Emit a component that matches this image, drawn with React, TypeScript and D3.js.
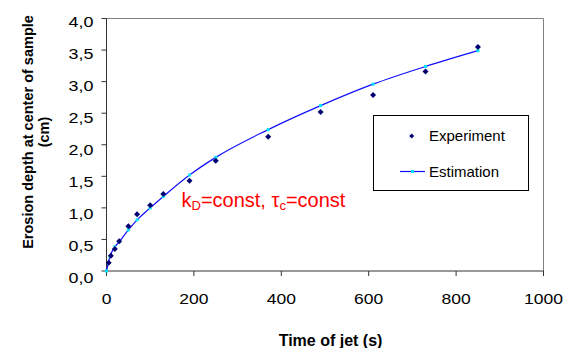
import React from "react";
import * as d3 from "d3";

const expTime = [5, 10, 19, 29, 50, 70, 100, 130, 190, 250, 370, 490, 610, 730, 850];
const expDepth = [0.13, 0.24, 0.35, 0.47, 0.71, 0.9, 1.04, 1.22, 1.43, 1.745, 2.125, 2.52, 2.79, 3.16, 3.55];

const estTime = [0, 8, 19, 29, 50, 70, 100, 130, 190, 250, 370, 490, 610, 730, 850];
const estDepth = [0, 0.23, 0.38, 0.46, 0.65, 0.81, 1.0, 1.18, 1.52, 1.8, 2.24, 2.62, 2.96, 3.24, 3.49];

const xTicks = [0, 200, 400, 600, 800, 1000];
const yTicks = [0, 0.5, 1, 1.5, 2, 2.5, 3, 3.5, 4];

const W = 563;
const H = 348;
const L = 106.5, R = 543.5, T = 18.5, B = 271;

export default function App() {
  const x = d3.scaleLinear().domain([0, 1000]).range([L, R]);
  const y = d3.scaleLinear().domain([0, 4]).range([B, T]);
  // label positions as rendered in the reference (slightly wider spacing than ticks)
  const yLab = d3.scaleLinear().domain([0, 4]).range([277.5, 21.5]);
  const fmt = (v: number) => v.toFixed(1).replace(".", ",");
  const est = estTime.map((t, i) => [t, estDepth[i]] as [number, number]);
  const line = d3
    .line<[number, number]>()
    .x((d) => x(d[0]))
    .y((d) => y(d[1]))
    .curve(d3.curveMonotoneX);
  const diamond = (cx: number, cy: number, r: number) =>
    `M${cx},${cy - r}L${cx + r},${cy}L${cx},${cy + r}L${cx - r},${cy}Z`;
  const font = "Liberation Sans, Arial, sans-serif";
  return (
    <svg
      width={W}
      height={H}
      style={{ position: "absolute", left: 0, top: 0, background: "#fff" }}
      fontFamily={font}
    >
      <rect x={0} y={0} width={W} height={H} fill="#fff" />
      {/* plot border */}
      <line x1={L} y1={T} x2={R} y2={T} stroke="#808080" strokeWidth={1} />
      <line x1={R} y1={T} x2={R} y2={B} stroke="#808080" strokeWidth={1} />
      {/* axes */}
      <line x1={L} y1={T} x2={L} y2={B} stroke="#333" strokeWidth={1} />
      <line x1={L} y1={B} x2={R} y2={B} stroke="#333" strokeWidth={1} />
      {yTicks.map((v) => (
        <g key={"y" + v}>
          <line x1={L - 5} x2={L} y1={y(v)} y2={y(v)} stroke="#333" />
          <text
            transform={`translate(93.5,${yLab(v)}) scale(1.28,1)`}
            dy="0.36em"
            textAnchor="end"
            fontSize={14}
          >
            {fmt(v)}
          </text>
        </g>
      ))}
      {xTicks.map((v) => (
        <g key={"x" + v}>
          <line x1={x(v)} x2={x(v)} y1={B} y2={B + 5} stroke="#333" />
          <text
            transform={`translate(${x(v)},303.5) scale(1.25,1)`}
            textAnchor="middle"
            fontSize={14}
          >
            {v}
          </text>
        </g>
      ))}
      {/* estimation line */}
      <path d={line(est) || ""} fill="none" stroke="#1010ff" strokeWidth={1.2} />
      {est.map((d, i) => (
        <rect
          key={"e" + i}
          x={x(d[0]) - 1.5}
          y={y(d[1]) - 1.5}
          width={3}
          height={3}
          fill="#00e5ff"
        />
      ))}
      {/* experiment points */}
      {expTime.map((t, i) => (
        <path key={"p" + i} d={diamond(x(t), y(expDepth[i]), 3)} fill="#000070" />
      ))}
      {/* annotation */}
      <text x={181.5} y={206.5} fill="#ff0000" fontSize={20}>
        k
        <tspan fontSize={13} dy={3.5}>D</tspan>
        <tspan dy={-3.5}>=const, τ</tspan>
        <tspan fontSize={13} dy={3.5}>c</tspan>
        <tspan dy={-3.5}>=const</tspan>
      </text>
      {/* legend */}
      <rect x={373.5} y={115.5} width={155} height={75} fill="#fff" stroke="#000" strokeWidth={1} />
      <path d={diamond(411.7, 136, 2.5)} fill="#000070" />
      <text x={429} y={141} fontSize={15}>Experiment</text>
      <line x1={400} x2={425} y1={171.5} y2={171.5} stroke="#1010ff" strokeWidth={1.2} />
      <rect x={411} y={170} width={3} height={3} fill="#00e5ff" />
      <text x={429} y={177} fontSize={15}>Estimation</text>
      {/* axis titles */}
      <text x={330.5} y={346} textAnchor="middle" fontSize={16} fontWeight="bold">
        Time of jet (s)
      </text>
      <g transform="translate(28,132) rotate(-90)">
        <text x={0} y={0} dy="0.35em" textAnchor="middle" fontSize={14.5} fontWeight="bold">
          Erosion depth at center of sample
        </text>
        <text x={0} y={16} dy="0.35em" textAnchor="middle" fontSize={14.5} fontWeight="bold">
          (cm)
        </text>
      </g>
    </svg>
  );
}
